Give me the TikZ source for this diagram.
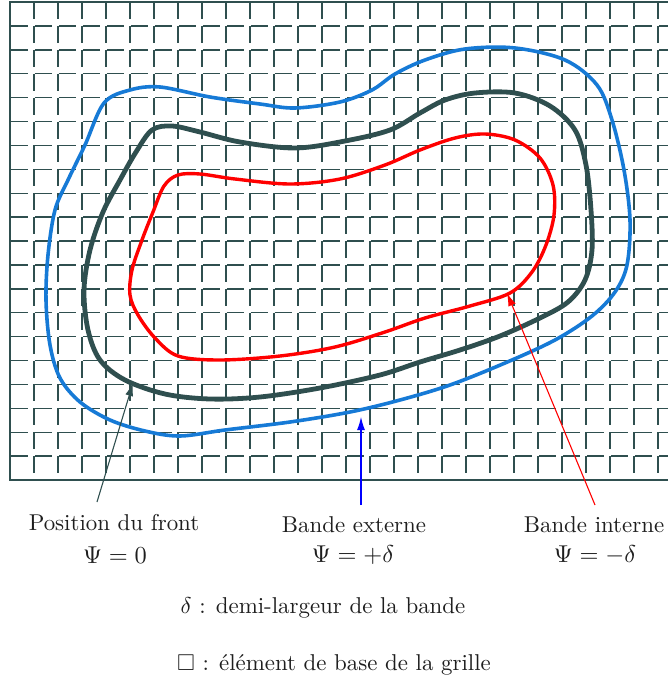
\documentclass[tikz,border=0pt]{standalone}
\usepackage{amssymb}
\usetikzlibrary{arrows.meta}
\definecolor{slate}{RGB}{47,79,79}
\definecolor{bandblue}{RGB}{22,122,214}
\definecolor{bandred}{RGB}{255,0,0}
\definecolor{txt}{RGB}{30,30,30}
\newcommand{\bigtxt}[1]{\scalebox{2.29}{#1}}
\newcommand{\bigmath}[1]{\scalebox{2.44}{#1}}
\tikzset{
  gridv/.style={slate, line width=1.4pt, dash pattern=on 17pt off 6.9pt},
  gridh/.style={slate, line width=1.4pt, dash pattern=on 17pt off 7pt},
  gridborder/.style={slate, line width=1.8pt},
  frontline/.style={slate, line width=4.8pt, line join=round},
  extline/.style={bandblue, line width=3.6pt, line join=round},
  intline/.style={bandred, line width=3.4pt, line join=round},
  lbl/.style={font=\normalsize, text=txt, inner sep=0pt},
  ptr/.style={line width=1.1pt, -{Latex[length=13pt,width=8pt]}}
}
\begin{document}
\begin{tikzpicture}[x=1pt,y=-1pt]
\useasboundingbox (0,0) rectangle (668,683);
% grid
\foreach \k in {1,...,27} \draw[gridv] ({10+24*\k},2) -- ({10+24*\k},480);
\foreach \k in {1,...,19} \draw[gridh] (11,{2+23.9*\k}) -- (668,{2+23.9*\k});
\draw[gridborder] (668,2) -- (10,2) -- (10,480) -- (668,480);
% outer band
\draw[extline] plot[smooth cycle, tension=0.55] coordinates {
(104,103) (130,90) (160,87) (210,97) (260,104) (295,108) (340,102) (372,90) (395,74) (425,60) (465,49) (515,48) (565,60) (597,85) (612,120) (624,170) (630,220) (627,265) (615,292) (592,316) (555,340) (505,363) (450,385) (400,400) (350,412) (290,422) (225,430) (180,436) (145,431) (110,420) (80,402) (60,378) (50,345) (46,300) (48,255) (55,210) (68,180) (85,145)};
% front
\draw[frontline] plot[smooth cycle, tension=0.55] coordinates {
(152,130) (172,126) (200,132) (240,142) (295,148) (345,141) (390,130) (420,113) (445,100) (475,93) (515,93) (550,106) (575,130) (586,165) (591,210) (592,250) (585,280) (568,302) (540,318) (500,336) (460,350) (420,362) (380,375) (320,388) (260,397) (210,399) (165,394) (125,380) (100,360) (88,330) (84,290) (90,250) (103,212) (120,180) (136,152)};
% inner band
\draw[intline] plot[smooth cycle, tension=0.55] coordinates {
(178,175) (200,174) (235,179) (290,184) (340,179) (385,165) (420,150) (455,138) (485,134) (515,140) (540,158) (553,185) (554,215) (546,245) (532,272) (510,293) (470,306) (425,318) (385,332) (335,347) (280,356) (220,360) (178,356) (155,338) (138,315) (130,295) (132,270) (142,240) (153,212) (164,186)};
% labels
\node[lbl] (front1) at (114,523) {\bigtxt{Position du front}};
\node[lbl] (front2) at (115,555) {\bigmath{$\Psi = 0$}};
\node[lbl] (ext1) at (354,525) {\bigtxt{Bande externe}};
\node[lbl] (ext2) at (353,555) {\bigmath{$\Psi = +\delta$}};
\node[lbl] (int1) at (594,525) {\bigtxt{Bande interne}};
\node[lbl] (int2) at (595,555) {\bigmath{$\Psi = -\delta$}};
\node[lbl] (leg1) at (323,608) {\bigtxt{$\delta$ : demi-largeur de la bande}};
\node[lbl] (leg2) at (334,665) {\bigtxt{$\square$ : élément de base de la grille}};
% arrows
\coordinate (fs) at (97,502);
\coordinate (ft) at (133,383);
\coordinate (es) at (361,505);
\coordinate (et) at (361,417);
\coordinate (is) at (595,505);
\coordinate (it) at (507,293);
\draw[ptr, slate] (fs) -- (ft);
\draw[ptr, blue] (es) -- (et);
\draw[ptr, red] (is) -- (it);
\end{tikzpicture}
\end{document}
